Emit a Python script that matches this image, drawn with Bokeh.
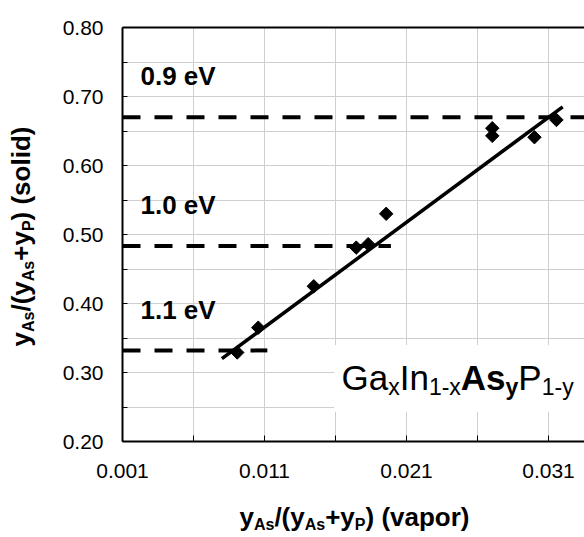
import math
from bokeh.plotting import figure
from bokeh.models import Range1d, FixedTicker, LinearAxis, Label, BoxAnnotation
from bokeh.embed import file_html
from bokeh.resources import INLINE

# ---------------- data ----------------
vapor_frac = [0.00908, 0.01056, 0.01447, 0.01746, 0.01830, 0.01957,
              0.02704, 0.02704, 0.03001, 0.03156]
solid_frac = [0.329, 0.365, 0.425, 0.481, 0.486, 0.530,
              0.654, 0.643, 0.641, 0.666]
fit_x = [0.0080, 0.0320]
fit_y = [0.320, 0.685]
gap_labels = ["0.9 eV", "1.0 eV", "1.1 eV"]
gap_levels = [0.670, 0.4835, 0.332]
gap_line_start = [0.001, 0.001, 0.001]
gap_line_end = [0.03354, 0.0199, 0.0112]
x_major = [0.001, 0.011, 0.021, 0.031]
x_major_labels = ["0.001", "0.011", "0.021", "0.031"]
x_minor = [0.006, 0.016, 0.026]
y_major = [0.2, 0.3, 0.4, 0.5, 0.6, 0.7, 0.8]
y_major_labels = ["0.20", "0.30", "0.40", "0.50", "0.60", "0.70", "0.80"]
y_minor = [0.25, 0.35, 0.45, 0.55, 0.65, 0.75]
x_axis_span = [0.001, 0.033535]
y_axis_span = [0.2, 0.8]
formula_box_x = [0.0159, 0.0336]
formula_box_y = [0.243, 0.340]

# ---------------- layout ----------------
W, H = 584, 537
AX_L, AX_R, AX_T, AX_B = 122, 584, 27, 441   # plot-area edges in page pixels
FONT = "Liberation Sans"
K_BASE = 0.36        # renderer places the alphabetic baseline this many em lower
XPP = (x_axis_span[1] - x_axis_span[0]) / (AX_R - AX_L)   # data per pixel
YPP = (y_axis_span[1] - y_axis_span[0]) / (AX_B - AX_T)
# the frame covers the whole page so that titles and tick labels are not clipped
x_view = (x_axis_span[0] - AX_L * XPP, x_axis_span[1])
y_view = (y_axis_span[0] - (H - AX_B) * YPP, y_axis_span[1] + AX_T * YPP)

def cx(px):
    return x_axis_span[0] + (px - AX_L) * XPP

def cy(py):
    return y_axis_span[0] + (AX_B - py) * YPP

# Arial / Liberation Sans advance widths (em)
REG = {"G": 0.778, "a": 0.556, "x": 0.5, "I": 0.278, "n": 0.556, "1": 0.556,
       "-": 0.333, "P": 0.667, "y": 0.5, "A": 0.667, "s": 0.5, " ": 0.278}
BLD = {"y": 0.556, "A": 0.722, "s": 0.556, "/": 0.278, "(": 0.333, ")": 0.333,
       "+": 0.584, "P": 0.667, " ": 0.278, "v": 0.556, "a": 0.556, "p": 0.611,
       "o": 0.611, "r": 0.389, "l": 0.278, "i": 0.278, "d": 0.611}

def tw(text, size, bold):
    table = BLD if bold else REG
    return sum(table.get(ch, 0.556) for ch in text) * size

def total(parts):
    return sum(tw(t, s, b) for t, s, b, _ in parts)

p = figure(width=W, height=H, output_backend="svg", toolbar_location=None,
           x_range=Range1d(*x_view), y_range=Range1d(*y_view),
           min_border=0, min_border_left=0, min_border_right=0,
           min_border_top=0, min_border_bottom=0)
p.outline_line_color = None
p.background_fill_color = "white"
p.border_fill_color = "white"

def add_runs(parts, start, base, rotated=False):
    """Place a sequence of text runs (text, size, bold, baseline shift px)."""
    pos = start
    for text, size, bold, shift in parts:
        style = "bold" if bold else "normal"
        common = dict(text=text, text_font=FONT, text_font_size=f"{size}px",
                      text_font_style=style, text_color="black",
                      text_baseline="alphabetic", text_align="left")
        if rotated:
            lab = Label(x=cx(base + shift - K_BASE * size), y=cy(pos),
                        angle=math.pi / 2, **common)
            pos -= tw(text, size, bold)
        else:
            lab = Label(x=cx(pos), y=cy(base + shift - K_BASE * size), **common)
            pos += tw(text, size, bold)
        p.add_layout(lab)

# axes, fixed at the plot-area edges
p.xaxis.fixed_location = y_axis_span[0]
p.yaxis.fixed_location = x_axis_span[0]
p.xaxis.bounds = tuple(x_axis_span)
p.yaxis.bounds = tuple(y_axis_span)
p.xaxis.ticker = FixedTicker(ticks=x_major, minor_ticks=x_minor)
p.yaxis.ticker = FixedTicker(ticks=y_major, minor_ticks=y_minor)
p.xaxis.major_label_overrides = dict(zip(x_major, x_major_labels))
p.yaxis.major_label_overrides = dict(zip(y_major, y_major_labels))
for ax, tick in ((p.xaxis, 6), (p.yaxis, 5)):
    ax.axis_line_width = 2
    ax.axis_line_color = "black"
    ax.major_tick_in = tick
    ax.major_tick_out = 0
    ax.minor_tick_in = tick
    ax.minor_tick_out = 0
    ax.major_tick_line_color = "black"
    ax.minor_tick_line_color = "black"
    ax.major_label_text_font = FONT
    ax.major_label_text_font_size = "21px"
    ax.major_label_text_color = "black"
p.xaxis.major_label_standoff = 22
p.yaxis.major_label_standoff = 19

top_axis = LinearAxis(ticker=FixedTicker(ticks=[]), axis_line_width=2,
                      axis_line_color="black", major_tick_line_color=None,
                      minor_tick_line_color=None, major_label_text_font_size="0px",
                      major_label_standoff=0, bounds=tuple(x_axis_span),
                      fixed_location=y_axis_span[1])
p.add_layout(top_axis, "above")

for g in (p.xgrid, p.ygrid):
    g.grid_line_color = "#cfcfcf"
    g.grid_line_width = 1
    g.minor_grid_line_color = "#cfcfcf"
    g.minor_grid_line_width = 1

# white masks: keep the grid inside the plot area, and the box behind the formula
masks = [
    (x_view[0], x_axis_span[0], y_view[0], y_view[1]),
    (x_view[0], x_view[1], y_view[0], y_axis_span[0]),
    (x_view[0], x_view[1], y_axis_span[1], y_view[1]),
    (formula_box_x[0], formula_box_x[1], formula_box_y[0], formula_box_y[1]),
]
for l, r, b, t in masks:
    p.add_layout(BoxAnnotation(left=l, right=r, bottom=b, top=t,
                               fill_color="white", fill_alpha=1.0,
                               line_color=None, level="underlay"))

p.segment(x0=gap_line_start, y0=gap_levels, x1=gap_line_end, y1=gap_levels,
          line_color="black", line_width=4, line_dash="18 14")
p.line(fit_x, fit_y, line_color="black", line_width=3.5)
p.scatter(vapor_frac, solid_frac, marker="square", angle=math.pi / 4,
          size=9.5, fill_color="black", line_color="black")

EV = 26
for txt, lev in zip(gap_labels, gap_levels):
    p.add_layout(Label(x=cx(140), y=lev + (31.5 + K_BASE * EV) * YPP, text=txt,
                       text_font=FONT, text_font_size=f"{EV}px",
                       text_font_style="bold", text_color="black",
                       text_baseline="alphabetic", text_align="left"))

FM, FS = 35, 23
formula = [("Ga", FM, False, 0), ("x", FS, False, 5), ("In", FM, False, 0),
           ("1-x", FS, False, 5), ("As", FM, True, 0), ("y", FS, True, 5),
           ("P", FM, False, 0), (" 1-y", FS, False, 5)]
add_runs(formula, 341, 390)

M, S = 26, 16
ytitle = [("y", M, True, 0), ("As", S, True, 4), ("/(y", M, True, 0),
          ("As", S, True, 4), ("+y", M, True, 0), ("P", S, True, 4),
          (") (solid)", M, True, 0)]
add_runs(ytitle, 236 + total(ytitle) / 2, 30, rotated=True)

xtitle = [("y", M, True, 0), ("As", S, True, 4), ("/(y", M, True, 0),
          ("As", S, True, 4), ("+y", M, True, 0), ("P", S, True, 4),
          (") (vapor)", M, True, 0)]
add_runs(xtitle, 354 - total(xtitle) / 2, 526)

open("out.html", "w").write(file_html(p, INLINE))
